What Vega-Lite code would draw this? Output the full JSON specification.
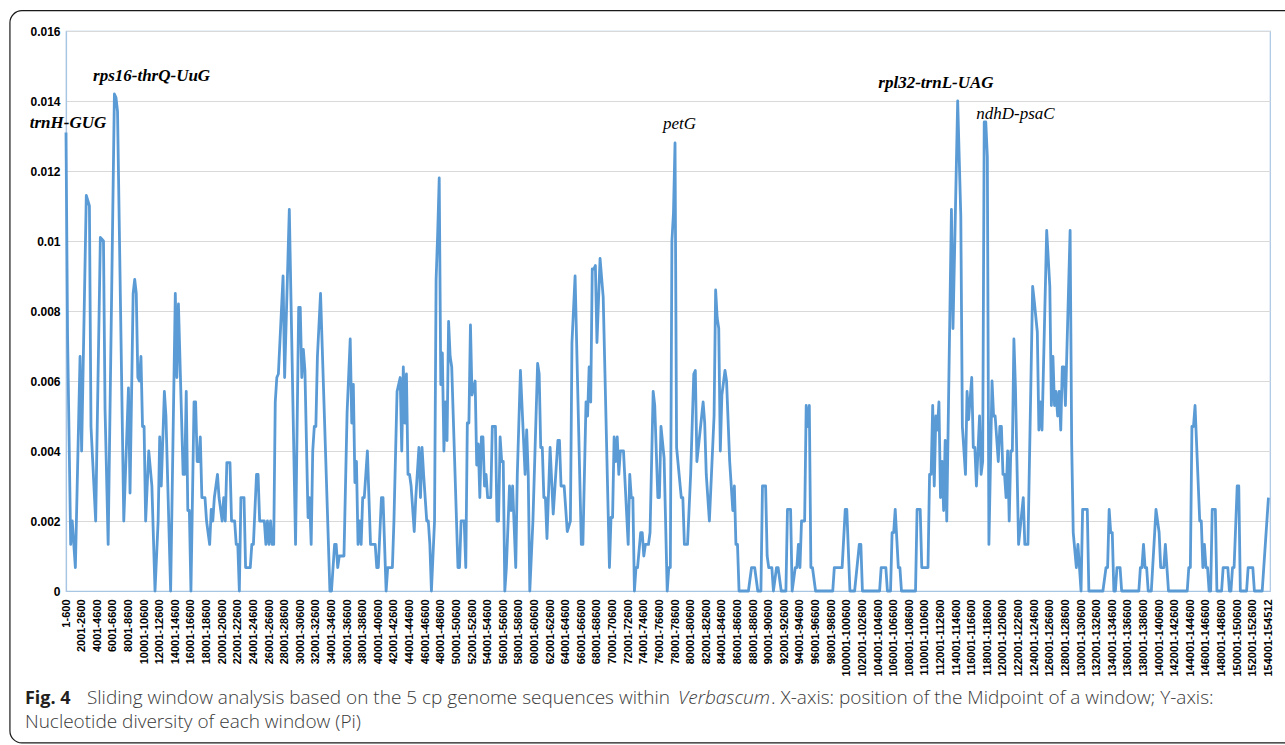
{
  "$schema": "https://vega.github.io/schema/vega-lite/v6.json",
  "autosize": {"type": "none"},
  "padding": {"left": 66, "top": 31, "right": 15, "bottom": 154},
  "width": 1204,
  "height": 560,
  "background": "white",
  "config": {
    "view": {"stroke": "#a9c5e4", "strokeWidth": 1.2},
    "axis": {"domainColor": "#a9c5e4", "domainWidth": 1.2, "ticks": false}
  },
  "resolve": {"axis": {"x": "independent", "y": "independent"}},
  "layer": [
    {
      "data": {"values": [
        {"w":0,"pi":0.0131},{"w":1,"pi":0.0073},{"w":3,"pi":0.00133},{"w":4,"pi":0.002},{"w":6,"pi":0.00067},{"w":9,"pi":0.0067},{"w":10,"pi":0.004},{"w":13,"pi":0.0113},{"w":15,"pi":0.011},{"w":16,"pi":0.0047},{"w":19,"pi":0.002},{"w":22,"pi":0.0101},{"w":24,"pi":0.01},{"w":25,"pi":0.0052},{"w":27,"pi":0.00133},{"w":31,"pi":0.0142},{"w":32,"pi":0.0141},{"w":33,"pi":0.0137},{"w":37,"pi":0.002},{"w":40,"pi":0.0058},{"w":41,"pi":0.0028},{"w":43,"pi":0.0085},{"w":44,"pi":0.0089},{"w":45,"pi":0.0085},{"w":46,"pi":0.0061},{"w":47,"pi":0.006},{"w":48,"pi":0.0067},{"w":49,"pi":0.0047},{"w":50,"pi":0.0047},{"w":51,"pi":0.002},{"w":53,"pi":0.004},{"w":55,"pi":0.003},{"w":57,"pi":0},{"w":59,"pi":0.002},{"w":60,"pi":0.0044},{"w":61,"pi":0.003},{"w":63,"pi":0.0057},{"w":64,"pi":0.005},{"w":67,"pi":0},{"w":70,"pi":0.0085},{"w":71,"pi":0.0061},{"w":72,"pi":0.0082},{"w":75,"pi":0.00333},{"w":76,"pi":0.00333},{"w":77,"pi":0.0057},{"w":78,"pi":0.0023},{"w":79,"pi":0.0023},{"w":80,"pi":0},{"w":82,"pi":0.0054},{"w":83,"pi":0.0054},{"w":84,"pi":0.0037},{"w":85,"pi":0.0037},{"w":86,"pi":0.0044},{"w":87,"pi":0.00267},{"w":89,"pi":0.00267},{"w":90,"pi":0.002},{"w":92,"pi":0.00133},{"w":93,"pi":0.00233},{"w":94,"pi":0.002},{"w":95,"pi":0.00267},{"w":97,"pi":0.00333},{"w":98,"pi":0.00267},{"w":100,"pi":0.002},{"w":101,"pi":0.00267},{"w":102,"pi":0.002},{"w":103,"pi":0.00367},{"w":105,"pi":0.00367},{"w":106,"pi":0.002},{"w":108,"pi":0.002},{"w":109,"pi":0.00133},{"w":110,"pi":0.00133},{"w":111,"pi":0},{"w":112,"pi":0.00267},{"w":114,"pi":0.00267},{"w":115,"pi":0.00067},{"w":118,"pi":0.00067},{"w":119,"pi":0.00133},{"w":120,"pi":0.00133},{"w":122,"pi":0.00333},{"w":123,"pi":0.00333},{"w":124,"pi":0.002},{"w":127,"pi":0.002},{"w":128,"pi":0.00133},{"w":129,"pi":0.002},{"w":130,"pi":0.00133},{"w":131,"pi":0.002},{"w":132,"pi":0.00133},{"w":133,"pi":0.00133},{"w":134,"pi":0.0054},{"w":135,"pi":0.0061},{"w":136,"pi":0.0062},{"w":139,"pi":0.009},{"w":140,"pi":0.0061},{"w":143,"pi":0.0109},{"w":144,"pi":0.0085},{"w":147,"pi":0.00133},{"w":149,"pi":0.0081},{"w":150,"pi":0.0081},
        {"w":151,"pi":0.0061},{"w":152,"pi":0.0069},{"w":153,"pi":0.0063},{"w":155,"pi":0.0021},{"w":156,"pi":0.00267},{"w":157,"pi":0.00133},{"w":158,"pi":0.004},{"w":159,"pi":0.0047},{"w":160,"pi":0.0047},{"w":161,"pi":0.0067},{"w":163,"pi":0.0085},{"w":169,"pi":0},{"w":170,"pi":0},{"w":172,"pi":0.00133},{"w":173,"pi":0.00133},{"w":174,"pi":0.00067},{"w":175,"pi":0.001},{"w":178,"pi":0.001},{"w":180,"pi":0.0051},{"w":182,"pi":0.0072},{"w":183,"pi":0.0048},{"w":184,"pi":0.0059},{"w":185,"pi":0.0031},{"w":186,"pi":0.0037},{"w":187,"pi":0.00133},{"w":188,"pi":0.002},{"w":189,"pi":0.00133},{"w":190,"pi":0.00267},{"w":191,"pi":0.00267},{"w":193,"pi":0.004},{"w":195,"pi":0.00133},{"w":198,"pi":0.00133},{"w":199,"pi":0.00067},{"w":200,"pi":0.00067},{"w":202,"pi":0.00267},{"w":203,"pi":0.00267},{"w":205,"pi":0},{"w":206,"pi":0.00067},{"w":209,"pi":0.00067},{"w":210,"pi":0.002},{"w":212,"pi":0.0057},{"w":214,"pi":0.0061},{"w":215,"pi":0.004},{"w":216,"pi":0.0064},{"w":217,"pi":0.0048},{"w":218,"pi":0.0062},{"w":219,"pi":0.00333},{"w":220,"pi":0.00333},{"w":221,"pi":0.003},{"w":223,"pi":0.0017},{"w":224,"pi":0.00267},{"w":226,"pi":0.0041},{"w":227,"pi":0.00267},{"w":228,"pi":0.0041},{"w":229,"pi":0.00333},{"w":231,"pi":0.002},{"w":232,"pi":0.002},{"w":233,"pi":0.00133},{"w":234,"pi":0},{"w":236,"pi":0.002},{"w":237,"pi":0.0089},{"w":238,"pi":0.0102},{"w":239,"pi":0.0118},{"w":240,"pi":0.0059},{"w":241,"pi":0.0068},{"w":242,"pi":0.004},{"w":243,"pi":0.0054},{"w":244,"pi":0.0043},{"w":245,"pi":0.0077},{"w":246,"pi":0.0067},{"w":247,"pi":0.0064},{"w":251,"pi":0.00067},{"w":252,"pi":0.00067},{"w":253,"pi":0.002},{"w":255,"pi":0.002},{"w":256,"pi":0.00067},{"w":257,"pi":0.0048},{"w":258,"pi":0.0048},{"w":259,"pi":0.0076},{"w":260,"pi":0.0056},{"w":262,"pi":0.006},{"w":263,"pi":0.0036},{"w":264,"pi":0.0042},{"w":265,"pi":0.00267},{"w":266,"pi":0.0044},{"w":267,"pi":0.0044},{"w":268,"pi":0.003},{"w":269,"pi":0.00333},{"w":270,"pi":0.00267},{"w":272,"pi":0.00267},{"w":273,"pi":0.0047},{"w":275,"pi":0.0047},{"w":276,"pi":0.002},{"w":277,"pi":0.002},{"w":278,"pi":0.0044},{"w":279,"pi":0.0037},{"w":280,"pi":0.0037},{"w":281,"pi":0},{"w":282,"pi":0.00067},{"w":284,"pi":0.003},{"w":285,"pi":0.0023},{"w":286,"pi":0.003},{"w":288,"pi":0.00067},{"w":289,"pi":0.00333},{"w":291,"pi":0.0063},{"w":294,"pi":0.00333},{"w":295,"pi":0.0046},{"w":296,"pi":0.00333},{"w":297,"pi":0},{"w":299,"pi":0.002},{"w":300,"pi":0.0035},{"w":302,"pi":0.0065},{"w":303,"pi":0.0062},{"w":304,"pi":0.0041},{"w":305,"pi":0.0041},
        {"w":306,"pi":0.00267},{"w":307,"pi":0.00267},{"w":308,"pi":0.0015},{"w":310,"pi":0.0041},{"w":312,"pi":0.0022},{"w":315,"pi":0.0043},{"w":316,"pi":0.0043},{"w":317,"pi":0.003},{"w":319,"pi":0.003},{"w":321,"pi":0.0017},{"w":323,"pi":0.002},{"w":324,"pi":0.0071},{"w":326,"pi":0.009},{"w":330,"pi":0.00133},{"w":331,"pi":0.00133},{"w":333,"pi":0.0054},{"w":334,"pi":0.005},{"w":335,"pi":0.0064},{"w":336,"pi":0.0054},{"w":337,"pi":0.0092},{"w":338,"pi":0.0092},{"w":339,"pi":0.0093},{"w":340,"pi":0.0071},{"w":342,"pi":0.0095},{"w":344,"pi":0.0084},{"w":348,"pi":0.00067},{"w":349,"pi":0.0021},{"w":350,"pi":0.0021},{"w":351,"pi":0.0044},{"w":352,"pi":0.0037},{"w":353,"pi":0.0044},{"w":354,"pi":0.00333},{"w":355,"pi":0.004},{"w":357,"pi":0.004},{"w":360,"pi":0.00133},{"w":361,"pi":0.00333},{"w":362,"pi":0.00267},{"w":363,"pi":0.00267},{"w":364,"pi":0},{"w":365,"pi":0.00067},{"w":366,"pi":0.00067},{"w":368,"pi":0.00167},{"w":369,"pi":0.00167},{"w":370,"pi":0.001},{"w":371,"pi":0.00133},{"w":373,"pi":0.00133},{"w":374,"pi":0.00167},{"w":376,"pi":0.0057},{"w":377,"pi":0.0053},{"w":379,"pi":0.00267},{"w":380,"pi":0.00267},{"w":381,"pi":0.0047},{"w":383,"pi":0.0038},{"w":385,"pi":0},{"w":386,"pi":0.00067},{"w":387,"pi":0.00067},{"w":388,"pi":0.01},{"w":389,"pi":0.0108},{"w":390,"pi":0.0128},{"w":391,"pi":0.0041},{"w":394,"pi":0.00267},{"w":395,"pi":0.00267},{"w":396,"pi":0.00133},{"w":398,"pi":0.00133},{"w":400,"pi":0.00333},{"w":402,"pi":0.0062},{"w":403,"pi":0.0063},{"w":404,"pi":0.0037},{"w":408,"pi":0.0054},{"w":409,"pi":0.0048},{"w":410,"pi":0.00333},{"w":412,"pi":0.002},{"w":415,"pi":0.005},{"w":416,"pi":0.0086},{"w":417,"pi":0.0078},{"w":418,"pi":0.0075},{"w":419,"pi":0.004},{"w":420,"pi":0.0056},{"w":422,"pi":0.0063},{"w":423,"pi":0.006},{"w":425,"pi":0.0037},{"w":426,"pi":0.003},{"w":427,"pi":0.0023},{"w":428,"pi":0.003},{"w":429,"pi":0.00133},{"w":430,"pi":0.00133},{"w":431,"pi":0},{"w":437,"pi":0},{"w":439,"pi":0.00067},{"w":441,"pi":0.00067},{"w":443,"pi":0},{"w":445,"pi":0},{"w":446,"pi":0.003},{"w":448,"pi":0.003},{"w":449,"pi":0.001},{"w":450,"pi":0.00067},{"w":452,"pi":0.00067},{"w":453,"pi":0},{"w":455,"pi":0.00067},{"w":456,"pi":0.00067},{"w":458,"pi":0},
        {"w":461,"pi":0},{"w":462,"pi":0.00233},{"w":464,"pi":0.00233},{"w":465,"pi":0},{"w":467,"pi":0.00067},{"w":468,"pi":0.00067},{"w":469,"pi":0.00133},{"w":470,"pi":0.00067},{"w":471,"pi":0.002},{"w":473,"pi":0.002},{"w":474,"pi":0.0053},{"w":475,"pi":0.0047},{"w":476,"pi":0.0053},{"w":477,"pi":0.00067},{"w":478,"pi":0.00067},{"w":480,"pi":0},{"w":491,"pi":0},{"w":492,"pi":0.00067},{"w":497,"pi":0.00067},{"w":499,"pi":0.00233},{"w":500,"pi":0.00233},{"w":502,"pi":0},{"w":505,"pi":0},{"w":508,"pi":0.00133},{"w":509,"pi":0.00133},{"w":510,"pi":0},{"w":521,"pi":0},{"w":522,"pi":0.00067},{"w":525,"pi":0.00067},{"w":526,"pi":0},{"w":528,"pi":0},{"w":529,"pi":0.00167},{"w":530,"pi":0.00167},{"w":531,"pi":0.00233},{"w":533,"pi":0.00067},{"w":534,"pi":0.00067},{"w":535,"pi":0},{"w":544,"pi":0},{"w":545,"pi":0.00233},{"w":547,"pi":0.00233},{"w":548,"pi":0.00067},{"w":552,"pi":0.00067},{"w":553,"pi":0.00333},{"w":554,"pi":0.00333},{"w":555,"pi":0.0053},{"w":556,"pi":0.003},{"w":557,"pi":0.005},{"w":558,"pi":0.0046},{"w":559,"pi":0.0054},{"w":560,"pi":0.00267},{"w":561,"pi":0.0037},{"w":562,"pi":0.0023},{"w":563,"pi":0.0043},{"w":564,"pi":0.002},{"w":567,"pi":0.0109},{"w":568,"pi":0.0075},{"w":571,"pi":0.014},{"w":573,"pi":0.0107},{"w":574,"pi":0.0047},{"w":576,"pi":0.00333},{"w":577,"pi":0.0057},{"w":578,"pi":0.0049},{"w":580,"pi":0.0061},{"w":581,"pi":0.0041},{"w":582,"pi":0.0041},{"w":583,"pi":0.003},{"w":585,"pi":0.005},{"w":586,"pi":0.00333},{"w":587,"pi":0.0037},{"w":588,"pi":0.0134},{"w":589,"pi":0.0134},{"w":590,"pi":0.0124},{"w":591,"pi":0.00133},{"w":593,"pi":0.006},{"w":594,"pi":0.005},{"w":595,"pi":0.005},{"w":597,"pi":0.0037},{"w":598,"pi":0.0047},{"w":599,"pi":0.0047},{"w":600,"pi":0.00333},{"w":601,"pi":0.00333},{"w":602,"pi":0.00267},{"w":603,"pi":0.004},{"w":604,"pi":0.002},{"w":605,"pi":0.004},{"w":606,"pi":0.004},{"w":607,"pi":0.0072},{"w":608,"pi":0.0058},{"w":610,"pi":0.00133},
        {"w":613,"pi":0.00267},{"w":614,"pi":0.00133},{"w":616,"pi":0.00133},{"w":619,"pi":0.0087},{"w":620,"pi":0.0083},{"w":622,"pi":0.0074},{"w":623,"pi":0.0046},{"w":624,"pi":0.0054},{"w":625,"pi":0.0046},{"w":628,"pi":0.0103},{"w":630,"pi":0.0087},{"w":631,"pi":0.0053},{"w":632,"pi":0.0067},{"w":633,"pi":0.0053},{"w":634,"pi":0.0057},{"w":635,"pi":0.005},{"w":636,"pi":0.0057},{"w":637,"pi":0.0046},{"w":638,"pi":0.0064},{"w":639,"pi":0.0064},{"w":640,"pi":0.0053},{"w":643,"pi":0.0103},{"w":644,"pi":0.0042},{"w":645,"pi":0.00167},{"w":647,"pi":0.00067},{"w":648,"pi":0.00133},{"w":649,"pi":0.00067},{"w":650,"pi":0},{"w":651,"pi":0.00233},{"w":654,"pi":0.00233},{"w":655,"pi":0},{"w":664,"pi":0},{"w":666,"pi":0.00067},{"w":667,"pi":0.00067},{"w":668,"pi":0.00233},{"w":669,"pi":0.00167},{"w":670,"pi":0.00167},{"w":671,"pi":0},{"w":672,"pi":0},{"w":673,"pi":0.00067},{"w":675,"pi":0.00067},{"w":676,"pi":0},{"w":687,"pi":0},{"w":688,"pi":0.00067},{"w":689,"pi":0.00067},{"w":690,"pi":0.00133},{"w":691,"pi":0.00067},{"w":692,"pi":0.00067},{"w":693,"pi":0},{"w":695,"pi":0},{"w":698,"pi":0.00233},{"w":700,"pi":0.00167},{"w":701,"pi":0.00067},{"w":703,"pi":0.00067},{"w":704,"pi":0.00133},{"w":705,"pi":0.00067},{"w":706,"pi":0},{"w":718,"pi":0},{"w":719,"pi":0.00067},{"w":720,"pi":0.00067},{"w":721,"pi":0.0047},{"w":722,"pi":0.0047},{"w":723,"pi":0.0053},{"w":726,"pi":0.002},{"w":727,"pi":0.002},{"w":728,"pi":0.00067},{"w":729,"pi":0.00133},{"w":730,"pi":0.00067},{"w":731,"pi":0.00067},{"w":732,"pi":0},{"w":733,"pi":0},{"w":734,"pi":0.00233},{"w":736,"pi":0.00233},{"w":737,"pi":0},{"w":740,"pi":0},{"w":741,"pi":0.00067},{"w":744,"pi":0.00067},{"w":745,"pi":0},{"w":746,"pi":0},{"w":747,"pi":0.00067},{"w":748,"pi":0.00067},{"w":750,"pi":0.003},{"w":751,"pi":0.003},{"w":752,"pi":0},{"w":756,"pi":0},{"w":757,"pi":0.00067},{"w":760,"pi":0.00067},{"w":761,"pi":0},{"w":766,"pi":0},{"w":768,"pi":0.00133},{"w":770,"pi":0.00267}
      ]},
      "mark": {"type": "line", "color": "#5b9bd5", "strokeWidth": 2.8, "strokeJoin": "round"},
      "encoding": {
        "x": {
          "field": "w", "type": "quantitative",
          "scale": {"domain": [0, 771], "nice": false, "zero": false},
          "axis": {
            "values": [0,10,20,30,40,50,60,70,80,90,100,110,120,130,140,150,160,170,180,190,200,210,220,230,240,250,260,270,280,290,300,310,320,330,340,350,360,370,380,390,400,410,420,430,440,450,460,470,480,490,500,510,520,530,540,550,560,570,580,590,600,610,620,630,640,650,660,670,680,690,700,710,720,730,740,750,760,770],
            "labelExpr": "(datum.value * 200 + 1) + '-' + min(datum.value * 200 + 600, 154512)",
            "labelAngle": 270,
            "labelAlign": "right",
            "labelBaseline": "middle",
            "labelFont": "Liberation Sans",
            "labelFontWeight": "bold",
            "labelFontSize": 11,
            "labelColor": "#000000",
            "labelPadding": 8,
            "labelOverlap": false,
            "labelFlush": false,
            "grid": false,
            "title": null
          }
        },
        "y": {
          "field": "pi", "type": "quantitative",
          "scale": {"domain": [0, 0.016], "nice": false},
          "axis": {
            "values": [0, 0.002, 0.004, 0.006, 0.008, 0.01, 0.012, 0.014, 0.016],
            "format": "~g",
            "labelFont": "Liberation Sans",
            "labelFontWeight": "bold",
            "labelFontSize": 12,
            "labelColor": "#000000",
            "labelPadding": 6,
            "grid": true,
            "gridColor": "#d9d9d9",
            "gridWidth": 1.2,
            "title": null
          }
        }
      }
    },
    {
      "data": {"values": [{}]},
      "mark": {"type": "rect", "fillOpacity": 0, "stroke": "#1a1a1a", "strokeWidth": 1.2, "cornerRadius": 12},
      "encoding": {
        "x": {"datum": -35.9, "type": "quantitative", "scale": {"domain": [0, 771], "nice": false, "zero": false}, "axis": null},
        "x2": {"datum": 790},
        "y": {"datum": 0.01658, "type": "quantitative", "scale": {"domain": [0, 0.016], "nice": false}, "axis": null},
        "y2": {"datum": -0.00434}
      }
    },
    {
      "data": {"values": [
        {"gene": "trnH-GUG", "w": 1.3, "pi": 0.01323},
        {"gene": "rps16-thrQ-UuG", "w": 54.8, "pi": 0.01456},
        {"gene": "rpl32-trnL-UAG", "w": 557.1, "pi": 0.01437}
      ]},
      "mark": {"type": "text", "font": "Liberation Serif", "fontSize": 17, "fontStyle": "italic", "fontWeight": "bold", "align": "center", "baseline": "alphabetic", "color": "#000000"},
      "encoding": {
        "x": {"field": "w", "type": "quantitative", "scale": {"domain": [0, 771], "nice": false, "zero": false}, "axis": null},
        "y": {"field": "pi", "type": "quantitative", "scale": {"domain": [0, 0.016], "nice": false}, "axis": null},
        "text": {"field": "gene"}
      }
    },
    {
      "data": {"values": [
        {"gene": "petG", "w": 392.9, "pi": 0.0132},
        {"gene": "ndhD-psaC", "w": 608.0, "pi": 0.01349}
      ]},
      "mark": {"type": "text", "font": "Liberation Serif", "fontSize": 17, "fontStyle": "italic", "fontWeight": "normal", "align": "center", "baseline": "alphabetic", "color": "#000000"},
      "encoding": {
        "x": {"field": "w", "type": "quantitative", "scale": {"domain": [0, 771], "nice": false, "zero": false}, "axis": null},
        "y": {"field": "pi", "type": "quantitative", "scale": {"domain": [0, 0.016], "nice": false}, "axis": null},
        "text": {"field": "gene"}
      }
    },
    {
      "data": {"values": [{}]},
      "mark": {"type": "text", "text": "Fig. 4", "font": "Open Sans", "fontSize": 18, "fontWeight": "bold", "align": "left", "baseline": "alphabetic", "color": "#231f20"},
      "encoding": {
        "x": {"datum": -26.3, "type": "quantitative", "scale": {"domain": [0, 771], "nice": false, "zero": false}, "axis": null},
        "y": {"datum": -0.00323, "type": "quantitative", "scale": {"domain": [0, 0.016], "nice": false}, "axis": null}
      }
    },
    {
      "data": {"values": [{}]},
      "mark": {"type": "text", "text": "Sliding window analysis based on the 5 cp genome sequences within", "font": "Open Sans", "fontSize": 19, "fontWeight": 300, "align": "left", "baseline": "alphabetic", "color": "#3a3a3a"},
      "encoding": {
        "x": {"datum": 13.4, "type": "quantitative", "scale": {"domain": [0, 771], "nice": false, "zero": false}, "axis": null},
        "y": {"datum": -0.00323, "type": "quantitative", "scale": {"domain": [0, 0.016], "nice": false}, "axis": null}
      }
    },
    {
      "data": {"values": [{}]},
      "mark": {"type": "text", "text": "Verbascum", "font": "Open Sans", "fontSize": 19, "fontWeight": 300, "fontStyle": "italic", "align": "left", "baseline": "alphabetic", "color": "#3a3a3a"},
      "encoding": {
        "x": {"datum": 391.9, "type": "quantitative", "scale": {"domain": [0, 771], "nice": false, "zero": false}, "axis": null},
        "y": {"datum": -0.00323, "type": "quantitative", "scale": {"domain": [0, 0.016], "nice": false}, "axis": null}
      }
    },
    {
      "data": {"values": [{}]},
      "mark": {"type": "text", "text": ". X-axis: position of the Midpoint of a window; Y-axis:", "font": "Open Sans", "fontSize": 19, "fontWeight": 300, "align": "left", "baseline": "alphabetic", "color": "#3a3a3a"},
      "encoding": {
        "x": {"datum": 451.5, "type": "quantitative", "scale": {"domain": [0, 771], "nice": false, "zero": false}, "axis": null},
        "y": {"datum": -0.00323, "type": "quantitative", "scale": {"domain": [0, 0.016], "nice": false}, "axis": null}
      }
    },
    {
      "data": {"values": [{}]},
      "mark": {"type": "text", "text": "Nucleotide diversity of each window (Pi)", "font": "Open Sans", "fontSize": 19, "fontWeight": 300, "align": "left", "baseline": "alphabetic", "color": "#3a3a3a"},
      "encoding": {
        "x": {"datum": -26.3, "type": "quantitative", "scale": {"domain": [0, 771], "nice": false, "zero": false}, "axis": null},
        "y": {"datum": -0.00391, "type": "quantitative", "scale": {"domain": [0, 0.016], "nice": false}, "axis": null}
      }
    }
  ]
}
